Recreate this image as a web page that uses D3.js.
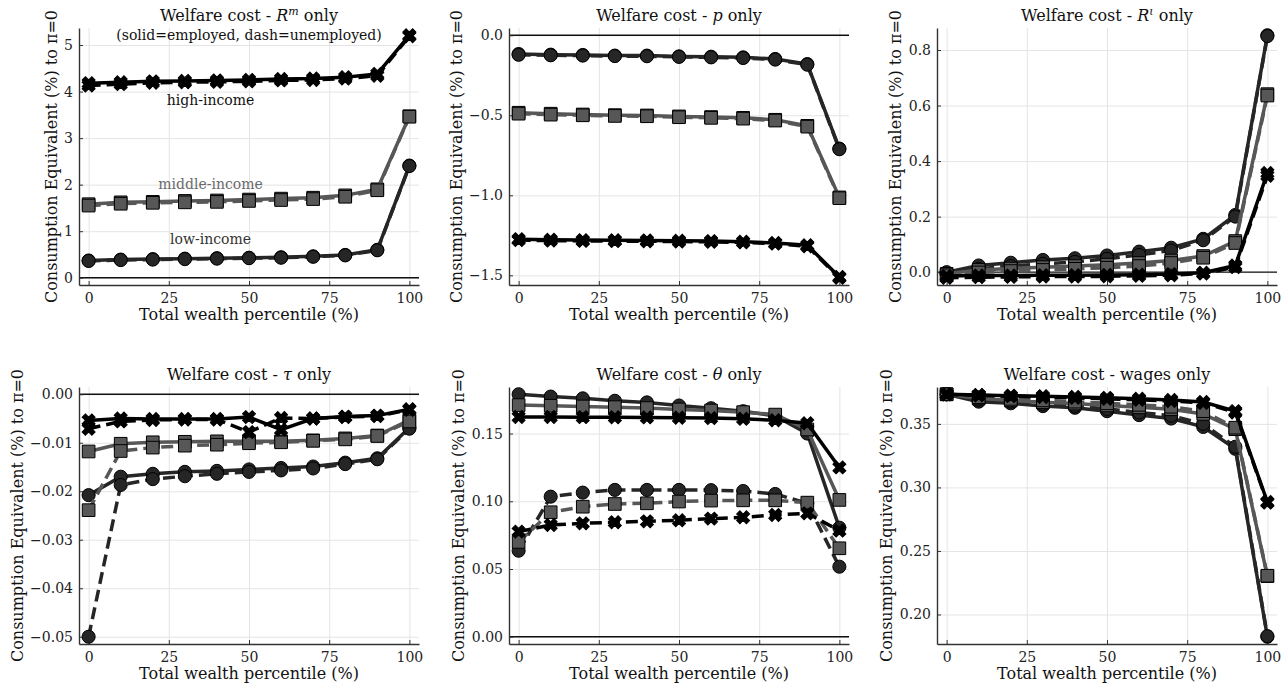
<!DOCTYPE html>
<html>
<head>
<meta charset="utf-8">
<script src="https://cdn.jsdelivr.net/npm/d3@7"></script>
<style>
  body { margin: 0; background: #fff; }
  text { font-family: "DejaVu Serif", serif; }
</style>
</head>
<body>
<div id="chart"></div>
<script>

// wealth percentile grid (x values)
var pct = [0, 10, 20, 30, 40, 50, 60, 70, 80, 90, 100];
var xTicks = [0, 25, 50, 75, 100];

// R^m only
var rmLowE  = [0.37, 0.39, 0.40, 0.41, 0.42, 0.43, 0.44, 0.46, 0.49, 0.60, 2.41];
var rmLowU  = [0.36, 0.38, 0.39, 0.40, 0.41, 0.42, 0.43, 0.45, 0.48, 0.59, 2.40];
var rmMidE  = [1.58, 1.62, 1.63, 1.65, 1.66, 1.68, 1.70, 1.72, 1.77, 1.90, 3.47];
var rmMidU  = [1.55, 1.59, 1.61, 1.62, 1.63, 1.65, 1.67, 1.69, 1.74, 1.88, 3.46];
var rmHighE = [4.18, 4.20, 4.22, 4.23, 4.24, 4.25, 4.27, 4.28, 4.31, 4.38, 5.21];
var rmHighU = [4.13, 4.16, 4.19, 4.20, 4.21, 4.22, 4.24, 4.25, 4.28, 4.34, 5.19];

// p only
var pLowE  = [-0.117, -0.121, -0.123, -0.127, -0.127, -0.132, -0.134, -0.138, -0.148, -0.180, -0.708];
var pLowU  = [-0.122, -0.125, -0.127, -0.130, -0.131, -0.135, -0.138, -0.142, -0.152, -0.184, -0.712];
var pMidE  = [-0.484, -0.490, -0.495, -0.499, -0.501, -0.507, -0.511, -0.516, -0.528, -0.566, -1.013];
var pMidU  = [-0.490, -0.496, -0.500, -0.504, -0.506, -0.512, -0.516, -0.521, -0.533, -0.571, -1.018];
var pHighE = [-1.274, -1.278, -1.280, -1.281, -1.282, -1.284, -1.286, -1.290, -1.298, -1.312, -1.510];
var pHighU = [-1.280, -1.283, -1.285, -1.286, -1.287, -1.289, -1.291, -1.294, -1.302, -1.318, -1.515];

// R^iota only
var riLowE  = [0.000, 0.024, 0.034, 0.044, 0.050, 0.060, 0.074, 0.088, 0.120, 0.206, 0.853];
var riLowU  = [-0.006, 0.012, 0.022, 0.030, 0.037, 0.048, 0.062, 0.078, 0.115, 0.200, 0.850];
var riMidE  = [-0.006, 0.008, 0.013, 0.018, 0.022, 0.027, 0.033, 0.042, 0.058, 0.112, 0.641];
var riMidU  = [-0.011, -0.001, 0.004, 0.008, 0.012, 0.016, 0.022, 0.033, 0.052, 0.105, 0.636];
var riHighE = [-0.014, -0.012, -0.012, -0.011, -0.011, -0.010, -0.009, -0.007, -0.002, 0.024, 0.357];
var riHighU = [-0.020, -0.018, -0.017, -0.016, -0.016, -0.015, -0.013, -0.011, -0.005, 0.018, 0.347];

// tau only
var tauLowE  = [-0.0208, -0.0170, -0.0164, -0.0160, -0.0158, -0.0155, -0.0152, -0.0149, -0.0141, -0.0132, -0.0069];
var tauLowU  = [-0.0500, -0.0187, -0.0175, -0.0169, -0.0164, -0.0160, -0.0157, -0.0153, -0.0144, -0.0134, -0.0071];
var tauMidE  = [-0.0118, -0.0102, -0.0099, -0.0098, -0.0097, -0.0097, -0.0097, -0.0095, -0.0091, -0.0085, -0.0053];
var tauMidU  = [-0.0239, -0.0117, -0.0110, -0.0106, -0.0104, -0.0101, -0.0099, -0.0096, -0.0093, -0.0086, -0.0056];
var tauHighE = [-0.0054, -0.0050, -0.0051, -0.0051, -0.0051, -0.0047, -0.0073, -0.0050, -0.0046, -0.0044, -0.0031];
var tauHighU = [-0.0071, -0.0056, -0.0053, -0.0052, -0.0052, -0.0078, -0.0049, -0.0050, -0.0047, -0.0045, -0.0032];

// theta only
var thLowE  = [0.1790, 0.1773, 0.1760, 0.1742, 0.1730, 0.1707, 0.1687, 0.1665, 0.1630, 0.1500, 0.0805];
var thLowU  = [0.0635, 0.1034, 0.1064, 0.1084, 0.1084, 0.1084, 0.1082, 0.1076, 0.1054, 0.0985, 0.0517];
var thMidE  = [0.1710, 0.1705, 0.1700, 0.1695, 0.1688, 0.1678, 0.1670, 0.1658, 0.1640, 0.1530, 0.1010];
var thMidU  = [0.0700, 0.0919, 0.0960, 0.0980, 0.0985, 0.0998, 0.1005, 0.1007, 0.1007, 0.0990, 0.0653];
var thHighE = [0.1622, 0.1622, 0.1621, 0.1620, 0.1619, 0.1617, 0.1614, 0.1609, 0.1598, 0.1576, 0.1250];
var thHighU = [0.0776, 0.0825, 0.0837, 0.0845, 0.0852, 0.0860, 0.0872, 0.0882, 0.0899, 0.0911, 0.0783];

// wages only
var wLowE  = [0.3733, 0.3675, 0.3662, 0.3640, 0.3627, 0.3600, 0.3569, 0.3542, 0.3476, 0.3304, 0.1825];
var wLowU  = [0.3733, 0.3690, 0.3675, 0.3655, 0.3642, 0.3618, 0.3590, 0.3565, 0.3500, 0.3320, 0.1830];
var wMidE  = [0.3733, 0.3700, 0.3685, 0.3670, 0.3660, 0.3645, 0.3630, 0.3615, 0.3578, 0.3458, 0.2302];
var wMidU  = [0.3733, 0.3710, 0.3697, 0.3685, 0.3675, 0.3662, 0.3650, 0.3635, 0.3600, 0.3470, 0.2305];
var wHighE = [0.3733, 0.3727, 0.3722, 0.3718, 0.3712, 0.3705, 0.3698, 0.3688, 0.3672, 0.3600, 0.2885];
var wHighU = [0.3733, 0.3725, 0.3718, 0.3712, 0.3705, 0.3697, 0.3690, 0.3680, 0.3665, 0.3590, 0.2880];

// y tick values per panel
var rmTicks  = [0, 1, 2, 3, 4, 5];
var pTicks   = [0, -0.5, -1.0, -1.5];
var riTicks  = [0, 0.2, 0.4, 0.6, 0.8];
var tauTicks = [0, -0.01, -0.02, -0.03, -0.04, -0.05];
var thTicks  = [0, 0.05, 0.10, 0.15];
var wTicks   = [0.20, 0.25, 0.30, 0.35];

var xLabel = "Total wealth percentile (%)";
var yLabel = "Consumption Equivalent (%) to \u03c0=0";

var width = 1288,
    height = 685;

var svg = d3.select("#chart")
    .append("svg")
    .attr("width", width)
    .attr("height", height)
    .style("background", "#fff");

var colLeft = [79, 509, 937],
    rowTop = [28, 387],
    pw = 340,
    ph = 257;

var groups = [
    { name: "low",  color: "#262626", type: d3.symbolCircle, size: 135, rot: 0 },
    { name: "mid",  color: "#575757", type: d3.symbolSquare, size: 160, rot: 0 },
    { name: "high", color: "#000000", type: d3.symbolCross,  size: 105, rot: 45 }
];

// title pieces: [text, italic, superscript]
var panels = [
    { title: [["Welfare cost - "], ["R", 1], ["m", 1, 1], [" only"]], ticks: rmTicks, fmt: "d", zero: true,
      s: [rmLowE, rmLowU, rmMidE, rmMidU, rmHighE, rmHighU] },
    { title: [["Welfare cost - "], ["p", 1], [" only"]], ticks: pTicks, fmt: ".1f", zero: true,
      s: [pLowE, pLowU, pMidE, pMidU, pHighE, pHighU] },
    { title: [["Welfare cost - "], ["R", 1], ["\u03b9", 1, 1], [" only"]], ticks: riTicks, fmt: ".1f", zero: true,
      s: [riLowE, riLowU, riMidE, riMidU, riHighE, riHighU] },
    { title: [["Welfare cost - "], ["\u03c4", 1], [" only"]], ticks: tauTicks, fmt: ".2f", zero: true,
      s: [tauLowE, tauLowU, tauMidE, tauMidU, tauHighE, tauHighU] },
    { title: [["Welfare cost - "], ["\u03b8", 1], [" only"]], ticks: thTicks, fmt: ".2f", zero: true,
      s: [thLowE, thLowU, thMidE, thMidU, thHighE, thHighU] },
    { title: [["Welfare cost - wages only"]], ticks: wTicks, fmt: ".2f", zero: false,
      s: [wLowE, wLowU, wMidE, wMidU, wHighE, wHighU] }
];

// annotations for first panel (data coords)
var notes = [
    { text: "high-income",   x: 38, y: 3.82, color: "#111" },
    { text: "middle-income", x: 38, y: 2.02, color: "#6a6a6a" },
    { text: "low-income",    x: 38, y: 0.82, color: "#333" }
];

panels.forEach(function (p, i) {
    var left = colLeft[i % 3],
        top = rowTop[Math.floor(i / 3)];

    var g = svg.append("g").attr("transform", "translate(" + left + "," + top + ")");

    var x = d3.scaleLinear().domain([-3, 103]).range([0, pw]);

    var all = d3.merge(p.s);
    if (p.zero) all = all.concat([0]);
    var ext = d3.extent(all), pad = (ext[1] - ext[0]) * 0.03;
    var y = d3.scaleLinear().domain([ext[0] - pad, ext[1] + pad]).range([ph, 0]);

    // grid
    g.append("g")
        .attr("class", "grid")
        .call(d3.axisLeft(y).tickValues(p.ticks).tickSize(-pw).tickFormat(""))
        .call(function (a) { a.select(".domain").remove(); })
        .selectAll("line").attr("stroke", "#e4e4e4").attr("stroke-width", 1);
    g.append("g")
        .attr("class", "grid")
        .attr("transform", "translate(0," + ph + ")")
        .call(d3.axisBottom(x).tickValues(xTicks).tickSize(-ph).tickFormat(""))
        .call(function (a) { a.select(".domain").remove(); })
        .selectAll("line").attr("stroke", "#e4e4e4").attr("stroke-width", 1);

    if (p.zero) {
        g.append("line")
            .attr("x1", 0).attr("x2", pw)
            .attr("y1", y(0)).attr("y2", y(0))
            .attr("stroke", "#111").attr("stroke-width", 1.4);
    }

    // axes
    var ya = g.append("g")
        .call(d3.axisLeft(y).tickValues(p.ticks).tickSizeInner(-4).tickSizeOuter(0)
            .tickPadding(6).tickFormat(d3.format(p.fmt)));
    var xa = g.append("g")
        .attr("transform", "translate(0," + ph + ")")
        .call(d3.axisBottom(x).tickValues(xTicks).tickSizeInner(-4).tickSizeOuter(0)
            .tickPadding(8).tickFormat(d3.format("d")));

    [ya, xa].forEach(function (a) {
        a.attr("font-family", null).attr("font-size", null);
        a.select(".domain").attr("stroke", "#333").attr("stroke-width", 1.4);
        a.selectAll(".tick line").attr("stroke", "#333");
        a.selectAll("text").style("font-size", "14px").attr("fill", "#222");
    });

    // series
    var line = d3.line()
        .x(function (d, k) { return x(pct[k]); })
        .y(function (d) { return y(d); });

    p.s.forEach(function (vals, k) {
        var grp = groups[Math.floor(k / 2)],
            dashed = k % 2 == 1;

        g.append("path")
            .datum(vals)
            .attr("d", line)
            .attr("fill", "none")
            .attr("stroke", grp.color)
            .attr("stroke-width", 3.5)
            .attr("stroke-dasharray", dashed ? "12,6" : null);

        g.selectAll(".m" + k)
            .data(vals)
            .enter()
            .append("path")
            .attr("d", d3.symbol().type(grp.type).size(grp.size))
            .attr("transform", function (d, j) {
                return "translate(" + x(pct[j]) + "," + y(d) + ") rotate(" + grp.rot + ")";
            })
            .attr("fill", grp.color)
            .attr("stroke", "#000")
            .attr("stroke-width", 1);
    });

    // title
    var t = g.append("text")
        .attr("x", pw / 2)
        .attr("y", -7)
        .attr("text-anchor", "middle")
        .style("font-size", "16px")
        .attr("fill", "#111");
    p.title.forEach(function (piece) {
        var ts = t.append("tspan").text(piece[0]);
        if (piece[1]) ts.style("font-style", "italic");
        if (piece[2]) ts.attr("dy", -6).style("font-size", "11px");
        else if (ts.node().previousSibling && ts.node().previousSibling.getAttribute("dy") == "-6") ts.attr("dy", 6);
    });

    // axis labels
    g.append("text")
        .attr("x", pw / 2)
        .attr("y", ph + 35)
        .attr("text-anchor", "middle")
        .style("font-size", "16px")
        .attr("fill", "#111")
        .text(xLabel);

    var maxW = d3.max(ya.selectAll("text").nodes(), function (n) { return n.getBBox().width; });
    var lx = -(6 + maxW + 13);
    g.append("text")
        .attr("transform", "translate(" + lx + "," + (ph / 2) + ") rotate(-90)")
        .attr("text-anchor", "middle")
        .attr("dy", "0.35em")
        .style("font-size", "16px")
        .attr("fill", "#111")
        .text(yLabel);

    if (i == 0) {
        g.append("text")
            .attr("x", pw / 2)
            .attr("y", 12)
            .attr("text-anchor", "middle")
            .style("font-size", "14px")
            .attr("fill", "#111")
            .text("(solid=employed, dash=unemployed)");

        g.selectAll(".note")
            .data(notes)
            .enter()
            .append("text")
            .attr("x", function (d) { return x(d.x); })
            .attr("y", function (d) { return y(d.y); })
            .attr("dy", "0.35em")
            .attr("text-anchor", "middle")
            .style("font-size", "14px")
            .attr("fill", function (d) { return d.color; })
            .text(function (d) { return d.text; });
    }
});

</script>
</body>
</html>
